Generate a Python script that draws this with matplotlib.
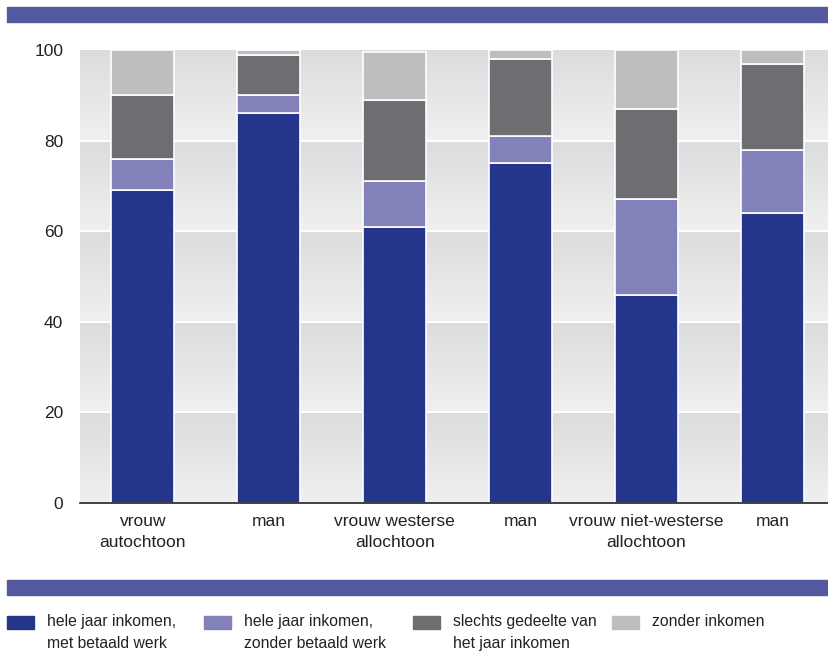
import numpy as np
import matplotlib
matplotlib.use("Agg")
import matplotlib.pyplot as plt
from matplotlib.patches import Rectangle
from matplotlib.colors import LinearSegmentedColormap

plt.rcParams['font.family'] = ['Liberation Sans Narrow', 'Liberation Sans', 'DejaVu Sans']

categories = ['vrouw\nautochtoon', 'man', 'vrouw westerse\nallochtoon', 'man',
              'vrouw niet-westerse\nallochtoon', 'man']
met_werk = [69, 86, 61, 75, 46, 64]
zonder_werk = [7, 4, 10, 6, 21, 14]
gedeelte = [14, 9, 18, 17, 20, 19]
zonder_inkomen = [10, 1, 10.5, 2, 13, 3]

series = [met_werk, zonder_werk, gedeelte, zonder_inkomen]
labels = ['hele jaar inkomen,\nmet betaald werk', 'hele jaar inkomen,\nzonder betaald werk',
          'slechts gedeelte van\nhet jaar inkomen', 'zonder inkomen']
colors = ['#24358b', '#8281ba', '#6d6e72', '#bdbec0']
band_color = '#5459a0'

fig = plt.figure(figsize=(8.29, 6.54), dpi=100)
ax = fig.add_axes([80 / 829, 1 - 503 / 654, 749 / 829, 453 / 654])

# gradient background bands
cmap = LinearSegmentedColormap.from_list('bg', ['#f0f0f0', '#dbdcde'])
grad = np.linspace(0, 1, 100).reshape(-1, 1)
for lo in range(0, 100, 20):
    ax.imshow(grad, cmap=cmap, aspect='auto', origin='lower',
              extent=(-0.5, 5.45, lo, lo + 20), zorder=0)
for y in range(20, 100, 20):
    ax.axhline(y, color='white', lw=1.5, zorder=1)

x = np.arange(len(categories))
bottom = np.zeros(len(categories))
for vals, c in zip(series, colors):
    ax.bar(x, vals, width=0.5, bottom=bottom, color=c, edgecolor='white',
           linewidth=1.2, zorder=2)
    bottom += np.array(vals)

ax.set_xlim(-0.5, 5.45)
ax.set_ylim(0, 100)
ax.set_yticks([0, 20, 40, 60, 80, 100])
ax.set_xticks(x)
ax.set_xticklabels(categories, fontsize=12.5, color='#222222', linespacing=1.5)
ax.tick_params(axis='y', length=0, pad=12, labelsize=12.5, labelcolor='#222222')
ax.tick_params(axis='x', length=0, pad=8)
for s in ['top', 'right', 'left']:
    ax.spines[s].set_visible(False)
ax.spines['bottom'].set_color('#222222')
ax.spines['bottom'].set_linewidth(1.2)
ax.spines['bottom'].set_zorder(3)

# purple bands
fig.patches.append(Rectangle((7 / 829, 1 - 22 / 654), 822 / 829, 15 / 654,
                             transform=fig.transFigure, color=band_color))
fig.patches.append(Rectangle((7 / 829, 1 - 595 / 654), 822 / 829, 15 / 654,
                             transform=fig.transFigure, color=band_color))

# legend
leg_x = [7, 204, 413, 612]
for lx, c, lab in zip(leg_x, colors, labels):
    fig.patches.append(Rectangle((lx / 829, 1 - 629 / 654), 27 / 829, 13 / 654,
                                 transform=fig.transFigure, color=c))
    fig.text((lx + 40) / 829, 1 - 614 / 654, lab, fontsize=11.3, color='#222222',
             va='top', ha='left', linespacing=1.6)

fig.savefig('out.png', dpi=100)
